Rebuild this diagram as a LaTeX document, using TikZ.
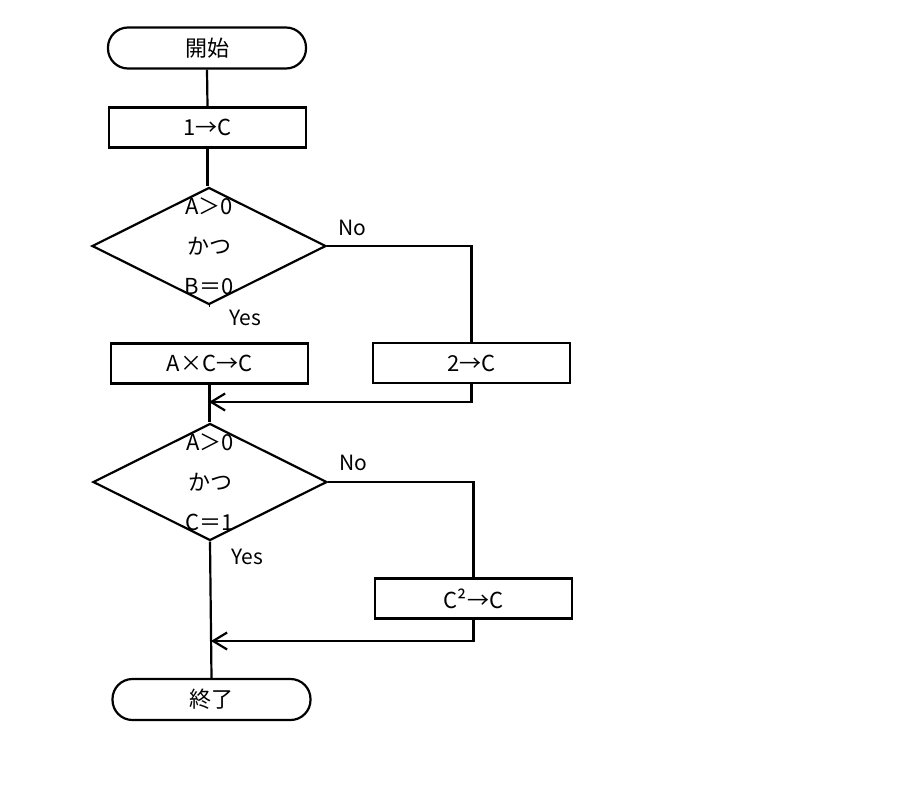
\documentclass[tikz,border=0pt]{standalone}
\usepackage{fontspec}
\setmainfont{Noto Sans CJK JP}
\usetikzlibrary{shapes.geometric,arrows.meta}
\begin{document}
\begin{tikzpicture}[x=1pt,y=-1pt,
  every node/.style={font=\fontsize{22}{40}\selectfont},
  lw/.style={line width=2.2pt},
  proc/.style={draw,lw,rectangle,minimum width=197pt,minimum height=40pt,inner sep=0pt},
  term/.style={draw,lw,rectangle,rounded corners=20pt,minimum width=198pt,minimum height=41pt,inner sep=0pt},
  dec/.style={draw,lw,diamond,minimum width=234pt,minimum height=117pt,inner sep=0pt},
  conn/.style={lw},
  arr/.style={lw,-{Straight Barb[length=14pt,width=17pt,line width=2.2pt]}},
  lbl/.style={font=\fontsize{21}{24}\selectfont,inner sep=0pt}
]
\useasboundingbox (0,0) rectangle (900,790);
\node[term] (start) at (207,48) {開始};
\node[proc] (b1) at (207.5,127.5) {1→C};
\node[dec] (d1) at (209,246) {};
\node[align=center,inner sep=0pt] (t1) at (209,246) {A＞0\\かつ\\B＝0};
\node[proc] (b2) at (209.5,363.5) {A×C→C};
\node[proc] (b3) at (471.5,363) {2→C};
\node[dec] (d2) at (210,482) {};
\node[align=center,inner sep=0pt] (t2) at (210,482) {A＞0\\かつ\\C＝1};
\node[proc] (b4) at (473.5,598.5) {C²→C};
\node[term] (end) at (211.5,699.5) {終了};
\coordinate (j1) at (209,402);
\coordinate (j2) at (211,641);

\draw[conn] (start.south) -- (b1.north);
\draw[conn] (b1.south) -- (b1.south |- d1.north);
\draw[conn] (d1.south) -- (d1.south -| b2.north);
\draw[conn] (d1.east) -| (b3.north);
\draw[conn] (b2.south) -- (b2.south |- d2.north);
\draw[arr] (b3.south) |- (j1);
\draw[conn] (d2.east) -| (b4.north);
\draw[conn] (d2.south) -- (end.north);
\draw[arr] (b4.south) |- (j2);

\node[lbl] (no1) at (352,228) {No};
\node[lbl] (yes1) at (245,318) {Yes};
\node[lbl] (no2) at (353,463) {No};
\node[lbl] (yes2) at (247,557) {Yes};
\end{tikzpicture}
\end{document}
